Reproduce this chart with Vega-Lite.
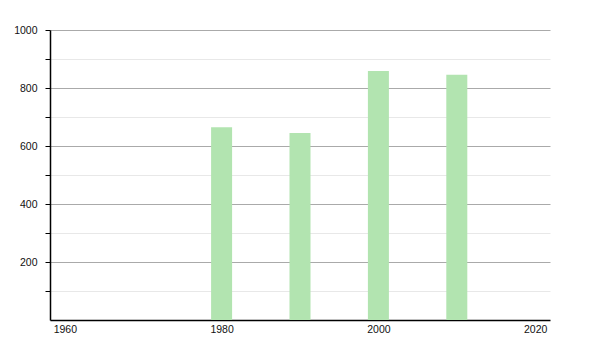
{
  "$schema": "https://vega.github.io/schema/vega-lite/v6.json",
  "width": 500,
  "height": 290,
  "autosize": {"type": "none"},
  "padding": {"left": 50, "top": 30, "right": 50, "bottom": 30},
  "background": "white",
  "config": {"view": {"stroke": null}},
  "data": {"values": [
    {"year": 1980, "population": 665},
    {"year": 1990, "population": 645},
    {"year": 2000, "population": 859},
    {"year": 2010, "population": 846}
  ]},
  "mark": {"type": "bar", "width": 21, "color": "#b2e4b0"},
  "encoding": {
    "x": {
      "field": "year", "type": "quantitative",
      "scale": {"domain": [1958.75, 2021.25], "nice": false, "zero": false},
      "axis": {
        "title": null, "values": [1960, 1980, 2000, 2020], "format": "d",
        "grid": false, "ticks": false, "labelFlush": false, "labelPadding": 4,
        "domainColor": "#000", "domainWidth": 1.5,
        "labelFont": "Liberation Sans", "labelFontSize": 10.5, "labelColor": "#111"
      }
    },
    "y": {
      "field": "population", "type": "quantitative",
      "scale": {"domain": [0, 1000], "nice": false},
      "axis": {
        "title": null, "format": "d",
        "values": [100, 200, 300, 400, 500, 600, 700, 800, 900, 1000],
        "labelExpr": "datum.value % 200 === 0 ? datum.label : ''",
        "grid": true,
        "gridColor": {"condition": {"test": "datum.value % 200 === 0", "value": "#aaaaaa"}, "value": "#e8e8e8"},
        "gridOpacity": 1,
        "tickSize": 5, "tickColor": "#000", "labelPadding": 8,
        "domainColor": "#000", "domainWidth": 1.5,
        "labelFont": "Liberation Sans", "labelFontSize": 10.5, "labelColor": "#111"
      }
    }
  }
}
